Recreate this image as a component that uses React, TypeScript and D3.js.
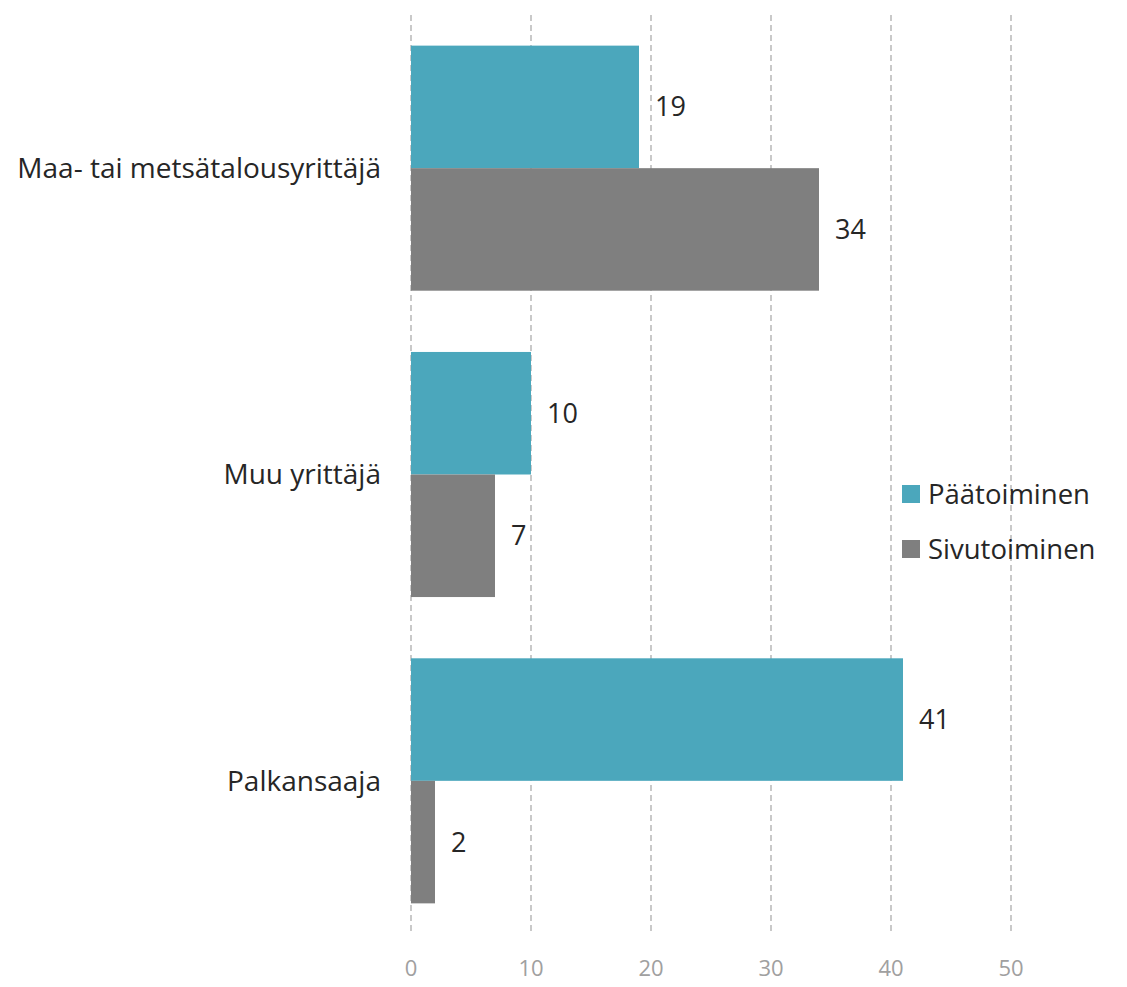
import React from "react";
import * as d3 from "d3";

const categories = ["Maa- tai metsätalousyrittäjä", "Muu yrittäjä", "Palkansaaja"];
const seriesNames = ["Päätoiminen", "Sivutoiminen"];
const paatoiminen = [19, 10, 41];
const sivutoiminen = [34, 7, 2];
const xTicks = [0, 10, 20, 30, 40, 50];
const colors = ["#4BA7BC", "#7F7F7F"];

const FONT = "'Open Sans', sans-serif";

export default function App() {
  const W = 1127, H = 987;
  const x = d3.scaleLinear().domain([0, 50]).range([411, 1011]);
  const y = d3.scaleBand().domain(categories).range([15, 934]).paddingInner(0.2).paddingOuter(0.1);
  const inner = d3.scaleBand().domain(seriesNames).range([0, y.bandwidth()]);
  const series = [paatoiminen, sivutoiminen];

  return (
    <svg width={W} height={H} style={{ position: "absolute", left: 0, top: 0 }}>
      <rect width={W} height={H} fill="#fff" />
      {xTicks.map((t) => (
        <g key={t}>
          <line x1={x(t)} x2={x(t)} y1={15} y2={933} stroke="#A6A6A6" strokeWidth={1.2} strokeDasharray="6,4" />
          <text x={x(t)} y={976} textAnchor="middle" fontFamily={FONT} fontSize={22} fill="#A0A0A0">{t}</text>
        </g>
      ))}
      {categories.map((c, i) => (
        <g key={c}>
          {series.map((s, j) => {
            const y0 = (y(c) as number) + (inner(seriesNames[j]) as number);
            const h = inner.bandwidth();
            return (
              <g key={j}>
                <rect x={x(0)} y={y0} width={x(s[i]) - x(0)} height={h} fill={colors[j]} />
                <text x={x(s[i]) + 16} y={y0 + h / 2} dy="0.35em" fontFamily={FONT} fontSize={27} fill="#262626">{s[i]}</text>
              </g>
            );
          })}
          <text x={381} y={(y(c) as number) + y.bandwidth() / 2} dy="0.35em" textAnchor="end" fontFamily={FONT} fontSize={28} fill="#262626">{c}</text>
        </g>
      ))}
      {seriesNames.map((n, j) => (
        <g key={n} transform={`translate(902, ${485 + j * 55})`}>
          <rect width={18} height={18} fill={colors[j]} />
          <text x={26} y={9} dy="0.35em" fontFamily={FONT} fontSize={27.5} fill="#262626">{n}</text>
        </g>
      ))}
    </svg>
  );
}
